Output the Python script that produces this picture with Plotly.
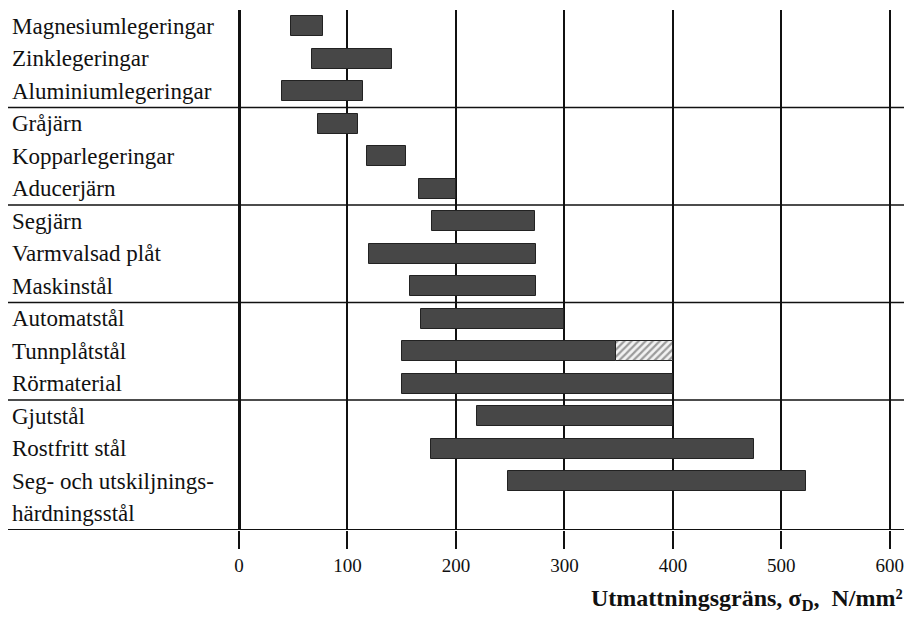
import plotly.graph_objects as go

# ---- data -------------------------------------------------------------
materials = [
    "Magnesiumlegeringar", "Zinklegeringar", "Aluminiumlegeringar",
    "Gråjärn", "Kopparlegeringar", "Aducerjärn",
    "Segjärn", "Varmvalsad plåt", "Maskinstål",
    "Automatstål", "Tunnplåtstål", "Rörmaterial",
    "Gjutstål", "Rostfritt stål", "Seg- och utskiljnings-\nhärdningsstål",
]
group_of = [0, 0, 0, 1, 1, 1, 2, 2, 2, 3, 3, 3, 4, 4, 4]
low = [48, 67, 40, 73, 118, 166, 178, 120, 158, 168, 150, 150, 219, 177, 248]
high = [77, 141, 114, 110, 154, 200, 273, 274, 274, 300, 348, 400, 400, 475, 523]
# hatched (uncertain) extension
hatch_material = ["Tunnplåtstål"]
hatch_low = [348]
hatch_high = [400]

tick_values = [0, 100, 200, 300, 400, 500, 600]
tick_labels = ["0", "100", "200", "300", "400", "500", "600"]
x_title = "Utmattningsgräns, σ<sub>D</sub>,  N/mm²"

# ---- layout helpers ---------------------------------------------------
ROWS_PER_GROUP = 3
rows = []
for i, g in enumerate(group_of):
    rows.append(ROWS_PER_GROUP * g + (i - group_of.index(g)) + 0.5)
n_rows_total = ROWS_PER_GROUP * (max(group_of) + 1) + 1  # extra line for wrapped label

BAR_COLOR = "#474747"
SERIF = "Liberation Serif, Times New Roman, serif"

fig = go.Figure()
fig.add_trace(go.Bar(
    y=rows, x=[h - l for l, h in zip(low, high)], base=low,
    orientation="h", width=0.62,
    marker=dict(color=BAR_COLOR, line=dict(color="#222", width=1)),
    hoverinfo="skip", showlegend=False,
))
hrows = [rows[materials.index(m)] for m in hatch_material]
fig.add_trace(go.Bar(
    y=hrows, x=[h - l for l, h in zip(hatch_low, hatch_high)], base=hatch_low,
    orientation="h", width=0.62,
    marker=dict(color="#d8d8d8", line=dict(color="#222", width=1),
                pattern=dict(shape="/", fgcolor="#444", bgcolor="#f2f2f2",
                             size=5, solidity=0.45)),
    hoverinfo="skip", showlegend=False,
))

# category labels
for m, r in zip(materials, rows):
    for k, line in enumerate(m.split("\n")):
        fig.add_annotation(
            x=0, xref="paper", xanchor="left", xshift=2,
            y=r + k, yref="y", yanchor="middle",
            text=line, showarrow=False,
            font=dict(family=SERIF, size=23, color="#111"),
        )

# group separators
for g in range(1, max(group_of) + 1):
    fig.add_shape(type="line", xref="paper", x0=0, x1=1,
                  yref="y", y0=ROWS_PER_GROUP * g, y1=ROWS_PER_GROUP * g,
                  line=dict(color="#111", width=1.5))
fig.add_shape(type="line", xref="paper", x0=0, x1=1,
              yref="y", y0=n_rows_total, y1=n_rows_total,
              line=dict(color="#111", width=2))

fig.add_annotation(
    x=1, xref="paper", xanchor="right",
    y=-0.135, yref="paper", yanchor="middle",
    text="<b>" + x_title + "</b>", showarrow=False,
    font=dict(family=SERIF, size=24, color="#111"),
)

fig.update_xaxes(
    range=[-213, 614], tickvals=tick_values, ticktext=tick_labels,
    showgrid=True, gridcolor="#111", gridwidth=1.5,
    zeroline=True, zerolinecolor="#111", zerolinewidth=2.5,
    ticks="outside", ticklen=18, tickwidth=1.5, tickcolor="#111",
    tickfont=dict(family=SERIF, size=19, color="#111"),
    showline=False, fixedrange=True,
)
fig.update_yaxes(
    range=[n_rows_total, 0], showgrid=False, zeroline=False,
    showticklabels=False, ticks="", showline=False, fixedrange=True,
)
# page body has an 8px default margin, so the figure is 8px smaller
fig.update_layout(
    width=904, height=612,
    margin=dict(l=0, r=7, t=2, b=90),
    paper_bgcolor="white", plot_bgcolor="white",
    barmode="overlay", bargap=0,
)

fig.write_html("out.html")
